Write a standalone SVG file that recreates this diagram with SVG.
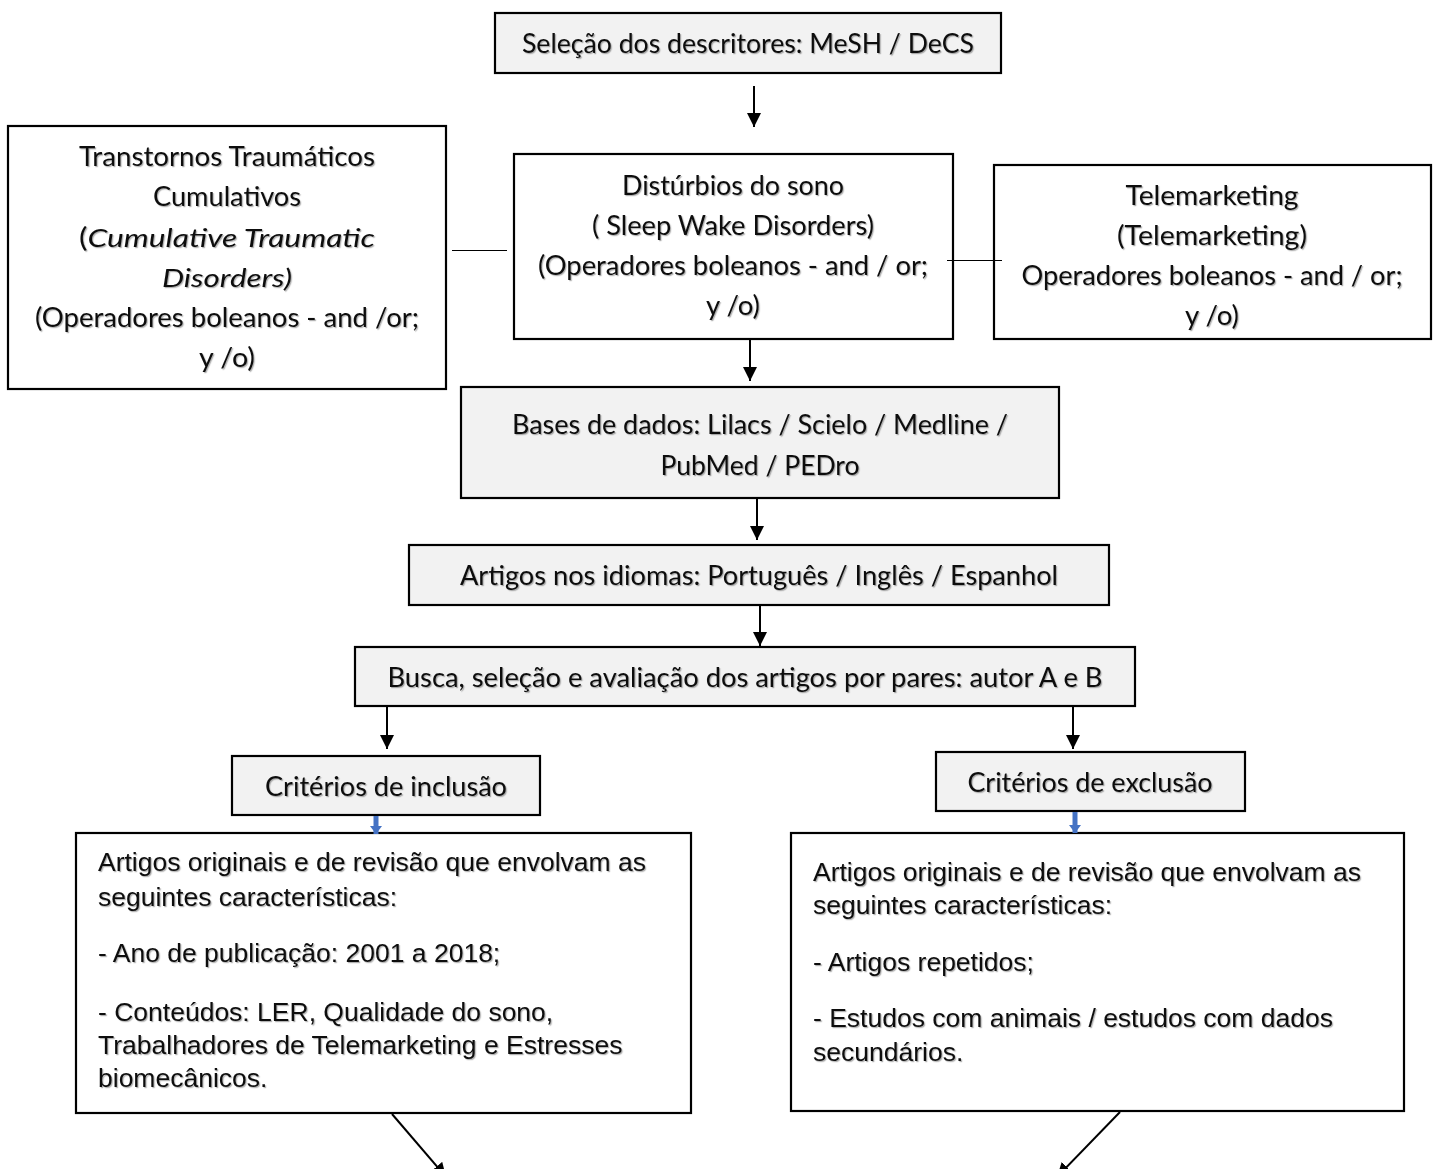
<svg xmlns="http://www.w3.org/2000/svg" width="1438" height="1169" viewBox="0 0 1438 1169">
<style>
.box{stroke:#000;stroke-width:2.2;}
.g{fill:#f2f2f2;}
.w{fill:#fff;}
.c{font-family:Lato,"Open Sans","Liberation Sans",sans-serif;font-size:26px;fill:#111;text-anchor:middle;}
.a{font-family:"Liberation Sans",Arial,sans-serif;font-size:26.5px;fill:#111;}
.ln{stroke:#000;stroke-width:2;fill:none;}
.thin{stroke:#000;stroke-width:1;fill:none;}
.blue{stroke:#4472c4;stroke-width:5;fill:none;}
.sh{filter:url(#shadow);}
</style>
<defs>
<filter id="shadow" x="-5%" y="-20%" width="110%" height="140%">
<feDropShadow dx="1.2" dy="1.2" stdDeviation="0.7" flood-color="#000" flood-opacity="0.3"/>
</filter>
<marker id="ah" markerUnits="userSpaceOnUse" markerWidth="16" markerHeight="16" refX="14" refY="7" orient="auto">
<path d="M0,0 L14,7 L0,14 Z" fill="#000"/>
</marker>
<marker id="bh" markerUnits="userSpaceOnUse" markerWidth="14" markerHeight="14" refX="8" refY="6" orient="auto">
<path d="M0,0 L8,6 L0,12 Z" fill="#4472c4"/>
</marker>
</defs>

<g id="n-selecao">
<rect class="box g" x="495" y="13" width="506" height="60"/>
<text class="c sh" x="748" y="53" textLength="452" lengthAdjust="spacingAndGlyphs">Seleção dos descritores: MeSH / DeCS</text>
</g>

<g id="n-transtornos">
<rect class="box w" x="8" y="126" width="438" height="263"/>
<g class="c sh">
<text x="227" y="166" textLength="296" lengthAdjust="spacingAndGlyphs">Transtornos Traumáticos</text>
<text x="227" y="206" textLength="148" lengthAdjust="spacingAndGlyphs">Cumulativos</text>
<text x="227" y="247" textLength="296" lengthAdjust="spacingAndGlyphs">(<tspan font-style="italic">Cumulative Traumatic</tspan></text>
<text x="227" y="287" textLength="130" lengthAdjust="spacingAndGlyphs" font-style="italic">Disorders)</text>
<text x="227" y="327" textLength="384" lengthAdjust="spacingAndGlyphs">(Operadores boleanos - and /or;</text>
<text x="227" y="367" textLength="56" lengthAdjust="spacingAndGlyphs">y /o)</text>
</g>
</g>

<g id="n-disturbios">
<rect class="box w" x="514" y="154" width="439" height="185"/>
<g class="c sh">
<text x="733" y="195" textLength="222" lengthAdjust="spacingAndGlyphs">Distúrbios do sono</text>
<text x="733" y="235" textLength="282" lengthAdjust="spacingAndGlyphs">( Sleep Wake Disorders)</text>
<text x="733" y="275" textLength="390" lengthAdjust="spacingAndGlyphs">(Operadores boleanos - and / or;</text>
<text x="733" y="315" textLength="54" lengthAdjust="spacingAndGlyphs">y /o)</text>
</g>
</g>

<g id="n-telemarketing">
<rect class="box w" x="994" y="165" width="437" height="174"/>
<g class="c sh">
<text x="1212" y="205" textLength="173" lengthAdjust="spacingAndGlyphs">Telemarketing</text>
<text x="1212" y="245" textLength="190" lengthAdjust="spacingAndGlyphs">(Telemarketing)</text>
<text x="1212" y="285" textLength="381" lengthAdjust="spacingAndGlyphs">Operadores boleanos - and / or;</text>
<text x="1212" y="325" textLength="54" lengthAdjust="spacingAndGlyphs">y /o)</text>
</g>
</g>

<g id="n-bases">
<rect class="box g" x="461" y="387" width="598" height="111"/>
<g class="c sh">
<text x="760" y="434" textLength="496" lengthAdjust="spacingAndGlyphs">Bases de dados: Lilacs / Scielo / Medline /</text>
<text x="760" y="475" textLength="199" lengthAdjust="spacingAndGlyphs">PubMed / PEDro</text>
</g>
</g>

<g id="n-idiomas">
<rect class="box g" x="409" y="545" width="700" height="60"/>
<text class="c sh" x="759" y="585" textLength="598" lengthAdjust="spacingAndGlyphs">Artigos nos idiomas: Português / Inglês / Espanhol</text>
</g>

<g id="n-busca">
<rect class="box g" x="355" y="647" width="780" height="59"/>
<text class="c sh" x="745" y="687" textLength="715" lengthAdjust="spacingAndGlyphs">Busca, seleção e avaliação dos artigos por pares: autor A e B</text>
</g>

<g id="n-inclusao">
<rect class="box g" x="232" y="756" width="308" height="59"/>
<text class="c sh" x="386" y="796" textLength="242" lengthAdjust="spacingAndGlyphs">Critérios de inclusão</text>
</g>

<g id="n-exclusao">
<rect class="box g" x="936" y="752" width="309" height="59"/>
<text class="c sh" x="1090" y="792" textLength="245" lengthAdjust="spacingAndGlyphs">Critérios de exclusão</text>
</g>

<g id="n-inclusao-det">
<rect class="box w" x="76" y="833" width="615" height="280"/>
<g class="a sh">
<text x="98" y="871">Artigos originais e de revisão que envolvam as</text>
<text x="98" y="906">seguintes características:</text>
<text x="98" y="962">- Ano de publicação: 2001 a 2018;</text>
<text x="98" y="1021">- Conteúdos: LER, Qualidade do sono,</text>
<text x="98" y="1054">Trabalhadores de Telemarketing e Estresses</text>
<text x="98" y="1087">biomecânicos.</text>
</g>
</g>

<g id="n-exclusao-det">
<rect class="box w" x="791" y="833" width="613" height="278"/>
<g class="a sh">
<text x="813" y="881">Artigos originais e de revisão que envolvam as</text>
<text x="813" y="914">seguintes características:</text>
<text x="813" y="971">- Artigos repetidos;</text>
<text x="813" y="1027">- Estudos com animais / estudos com dados</text>
<text x="813" y="1061">secundários.</text>
</g>
</g>

<g id="connectors">
<line class="ln" x1="754" y1="86" x2="754" y2="127" marker-end="url(#ah)"/>
<line class="thin" x1="452" y1="250.5" x2="507" y2="250.5"/>
<line class="thin" x1="947" y1="260.5" x2="1002" y2="260.5"/>
<line class="ln" x1="750" y1="340" x2="750" y2="381" marker-end="url(#ah)"/>
<line class="ln" x1="757" y1="499" x2="757" y2="540" marker-end="url(#ah)"/>
<line class="ln" x1="760" y1="606" x2="760" y2="646" marker-end="url(#ah)"/>
<line class="ln" x1="387" y1="707" x2="387" y2="749" marker-end="url(#ah)"/>
<line class="ln" x1="1073" y1="707" x2="1073" y2="749" marker-end="url(#ah)"/>
<line class="blue" x1="376" y1="816" x2="376" y2="834" marker-end="url(#bh)"/>
<line class="blue" x1="1075" y1="812" x2="1075" y2="833" marker-end="url(#bh)"/>
<line class="ln" x1="392" y1="1114" x2="446" y2="1177" marker-end="url(#ah)"/>
<line class="ln" x1="1120" y1="1112" x2="1057" y2="1177" marker-end="url(#ah)"/>
</g>
</svg>
